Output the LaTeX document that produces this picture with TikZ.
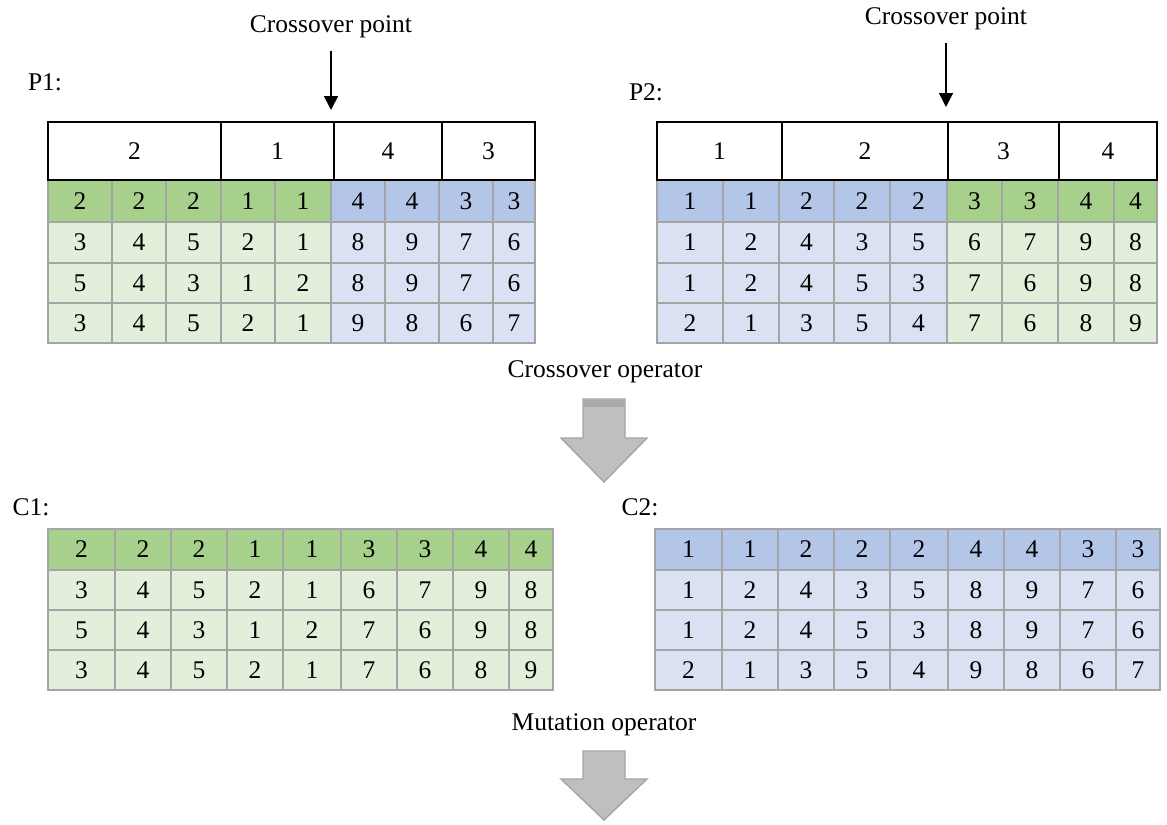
\documentclass[tikz,border=0pt]{standalone}
\usepackage{fontspec}
\setmainfont{Liberation Serif}
\usetikzlibrary{positioning,arrows.meta}
\definecolor{dkgreen}{HTML}{A8D08D}
\definecolor{ltgreen}{HTML}{E2EFDA}
\definecolor{dkblue}{HTML}{B4C6E7}
\definecolor{ltblue}{HTML}{D9E1F2}
\definecolor{gridgray}{HTML}{A5A5A5}
\definecolor{arrowgray}{HTML}{BFBFBF}
\definecolor{bandgray}{HTML}{A9A9A9}

\newcommand{\genetable}[4]{%
  \foreach \vals/\fa/\fb [count=\rw] in {#4} {%
    \foreach \val [count=\cl] in \vals {%
      \pgfmathsetmacro\xl{{#2}[\cl-1]}%
      \pgfmathsetmacro\xr{{#2}[\cl]}%
      \pgfmathsetmacro\yt{{#3}[\rw-1]}%
      \pgfmathsetmacro\yb{{#3}[\rw]}%
      \ifnum\cl<6 \def\fc{\fa}\else\def\fc{\fb}\fi
      \node[gene, fill=\fc, minimum width={(\xr-\xl)*0.02cm}, minimum height={(\yb-\yt)*0.02cm}]
        (#1-\rw-\cl) at ({(\xl+\xr)/2},{(\yt+\yb)/2}) {\val};
    }
  }
}

\begin{document}
\begin{tikzpicture}[x=0.02cm,y=-0.02cm,font=\fontsize{14.5}{17}\selectfont,
    gene/.style={draw=gridgray,line width=1.2pt,inner sep=0pt,outer sep=0pt},
    block/.style={draw=black,fill=white,line width=1.1pt,inner sep=0pt,outer sep=0pt,minimum height=1.16cm},
    cutarrow/.style={-{Triangle[length=0.28cm,width=0.28cm]},line width=0.9pt,shorten <=0.13cm},
    bigarrow/.style={draw=gridgray,fill=arrowgray,line width=0.8pt,line join=miter}]
    \useasboundingbox (0,0) rectangle (1167,825);

    \genetable{p1}{48,112,166,221,275,331,385,439,493,535}{180,222,263,303,343}{%
        {2,2,2,1,1,4,4,3,3}/dkgreen/dkblue, {3,4,5,2,1,8,9,7,6}/ltgreen/ltblue,
        {5,4,3,1,2,8,9,7,6}/ltgreen/ltblue, {3,4,5,2,1,9,8,6,7}/ltgreen/ltblue}
    \genetable{p2}{657,723,779,834,890,947,1002,1058,1114,1157}{180,222,263,303,343}{%
        {1,1,2,2,2,3,3,4,4}/dkblue/dkgreen, {1,2,4,3,5,6,7,9,8}/ltblue/ltgreen,
        {1,2,4,5,3,7,6,9,8}/ltblue/ltgreen, {2,1,3,5,4,7,6,8,9}/ltblue/ltgreen}
    \genetable{c1}{48,115,171,227,283,341,397,453,509,553}{529,570,610,650,690}{%
        {2,2,2,1,1,3,3,4,4}/dkgreen/dkgreen, {3,4,5,2,1,6,7,9,8}/ltgreen/ltgreen,
        {5,4,3,1,2,7,6,9,8}/ltgreen/ltgreen, {3,4,5,2,1,7,6,8,9}/ltgreen/ltgreen}
    \genetable{c2}{655,722,778,834,890,948,1004,1060,1116,1160}{529,570,610,650,690}{%
        {1,1,2,2,2,4,4,3,3}/dkblue/dkblue, {1,2,4,3,5,8,9,7,6}/ltblue/ltblue,
        {1,2,4,5,3,8,9,7,6}/ltblue/ltblue, {2,1,3,5,4,9,8,6,7}/ltblue/ltblue}

    \foreach \xl/\xr/\val [count=\cl] in {48/221/2,221/334/1,334/442/4,442/535/3}
        \node[block, minimum width={(\xr-\xl)*0.02cm}] (p1-h\cl) at ({(\xl+\xr)/2},151) {\val};
    \foreach \xl/\xr/\val [count=\cl] in {657/782/1,782/948/2,948/1059/3,1059/1157/4}
        \node[block, minimum width={(\xr-\xl)*0.02cm}] (p2-h\cl) at ({(\xl+\xr)/2},151) {\val};

    \node (p1) at (45,82) {P1:};
    \node (p2) at (646,92) {P2:};
    \node (c1) at (31,507) {C1:};
    \node (c2) at (640,507) {C2:};

    \node (cp1) at (331,27) {Crossover point};
    \coordinate (cut1) at (331,110);
    \node (cp2) at (946,19) {Crossover point};
    \coordinate (cut2) at (946,107);
    \draw[cutarrow] (cp1) -- (cut1);
    \draw[cutarrow] (cp2) -- (cut2);

    \node (xop) at (605,372) {Crossover operator};
    \node (mop) at (604,725) {Mutation operator};

    \draw[bigarrow] (583,399) -- (625,399) -- (625,438) -- (647,438) -- (604,482)
        -- (561,438) -- (583,438) -- cycle;
    \fill[bandgray] (583.6,399.6) rectangle (624.4,407);
    \draw[bigarrow] (583,751) -- (625,751) -- (625,779) -- (647,779) -- (604,820)
        -- (561,779) -- (583,779) -- cycle;
\end{tikzpicture}
\end{document}
